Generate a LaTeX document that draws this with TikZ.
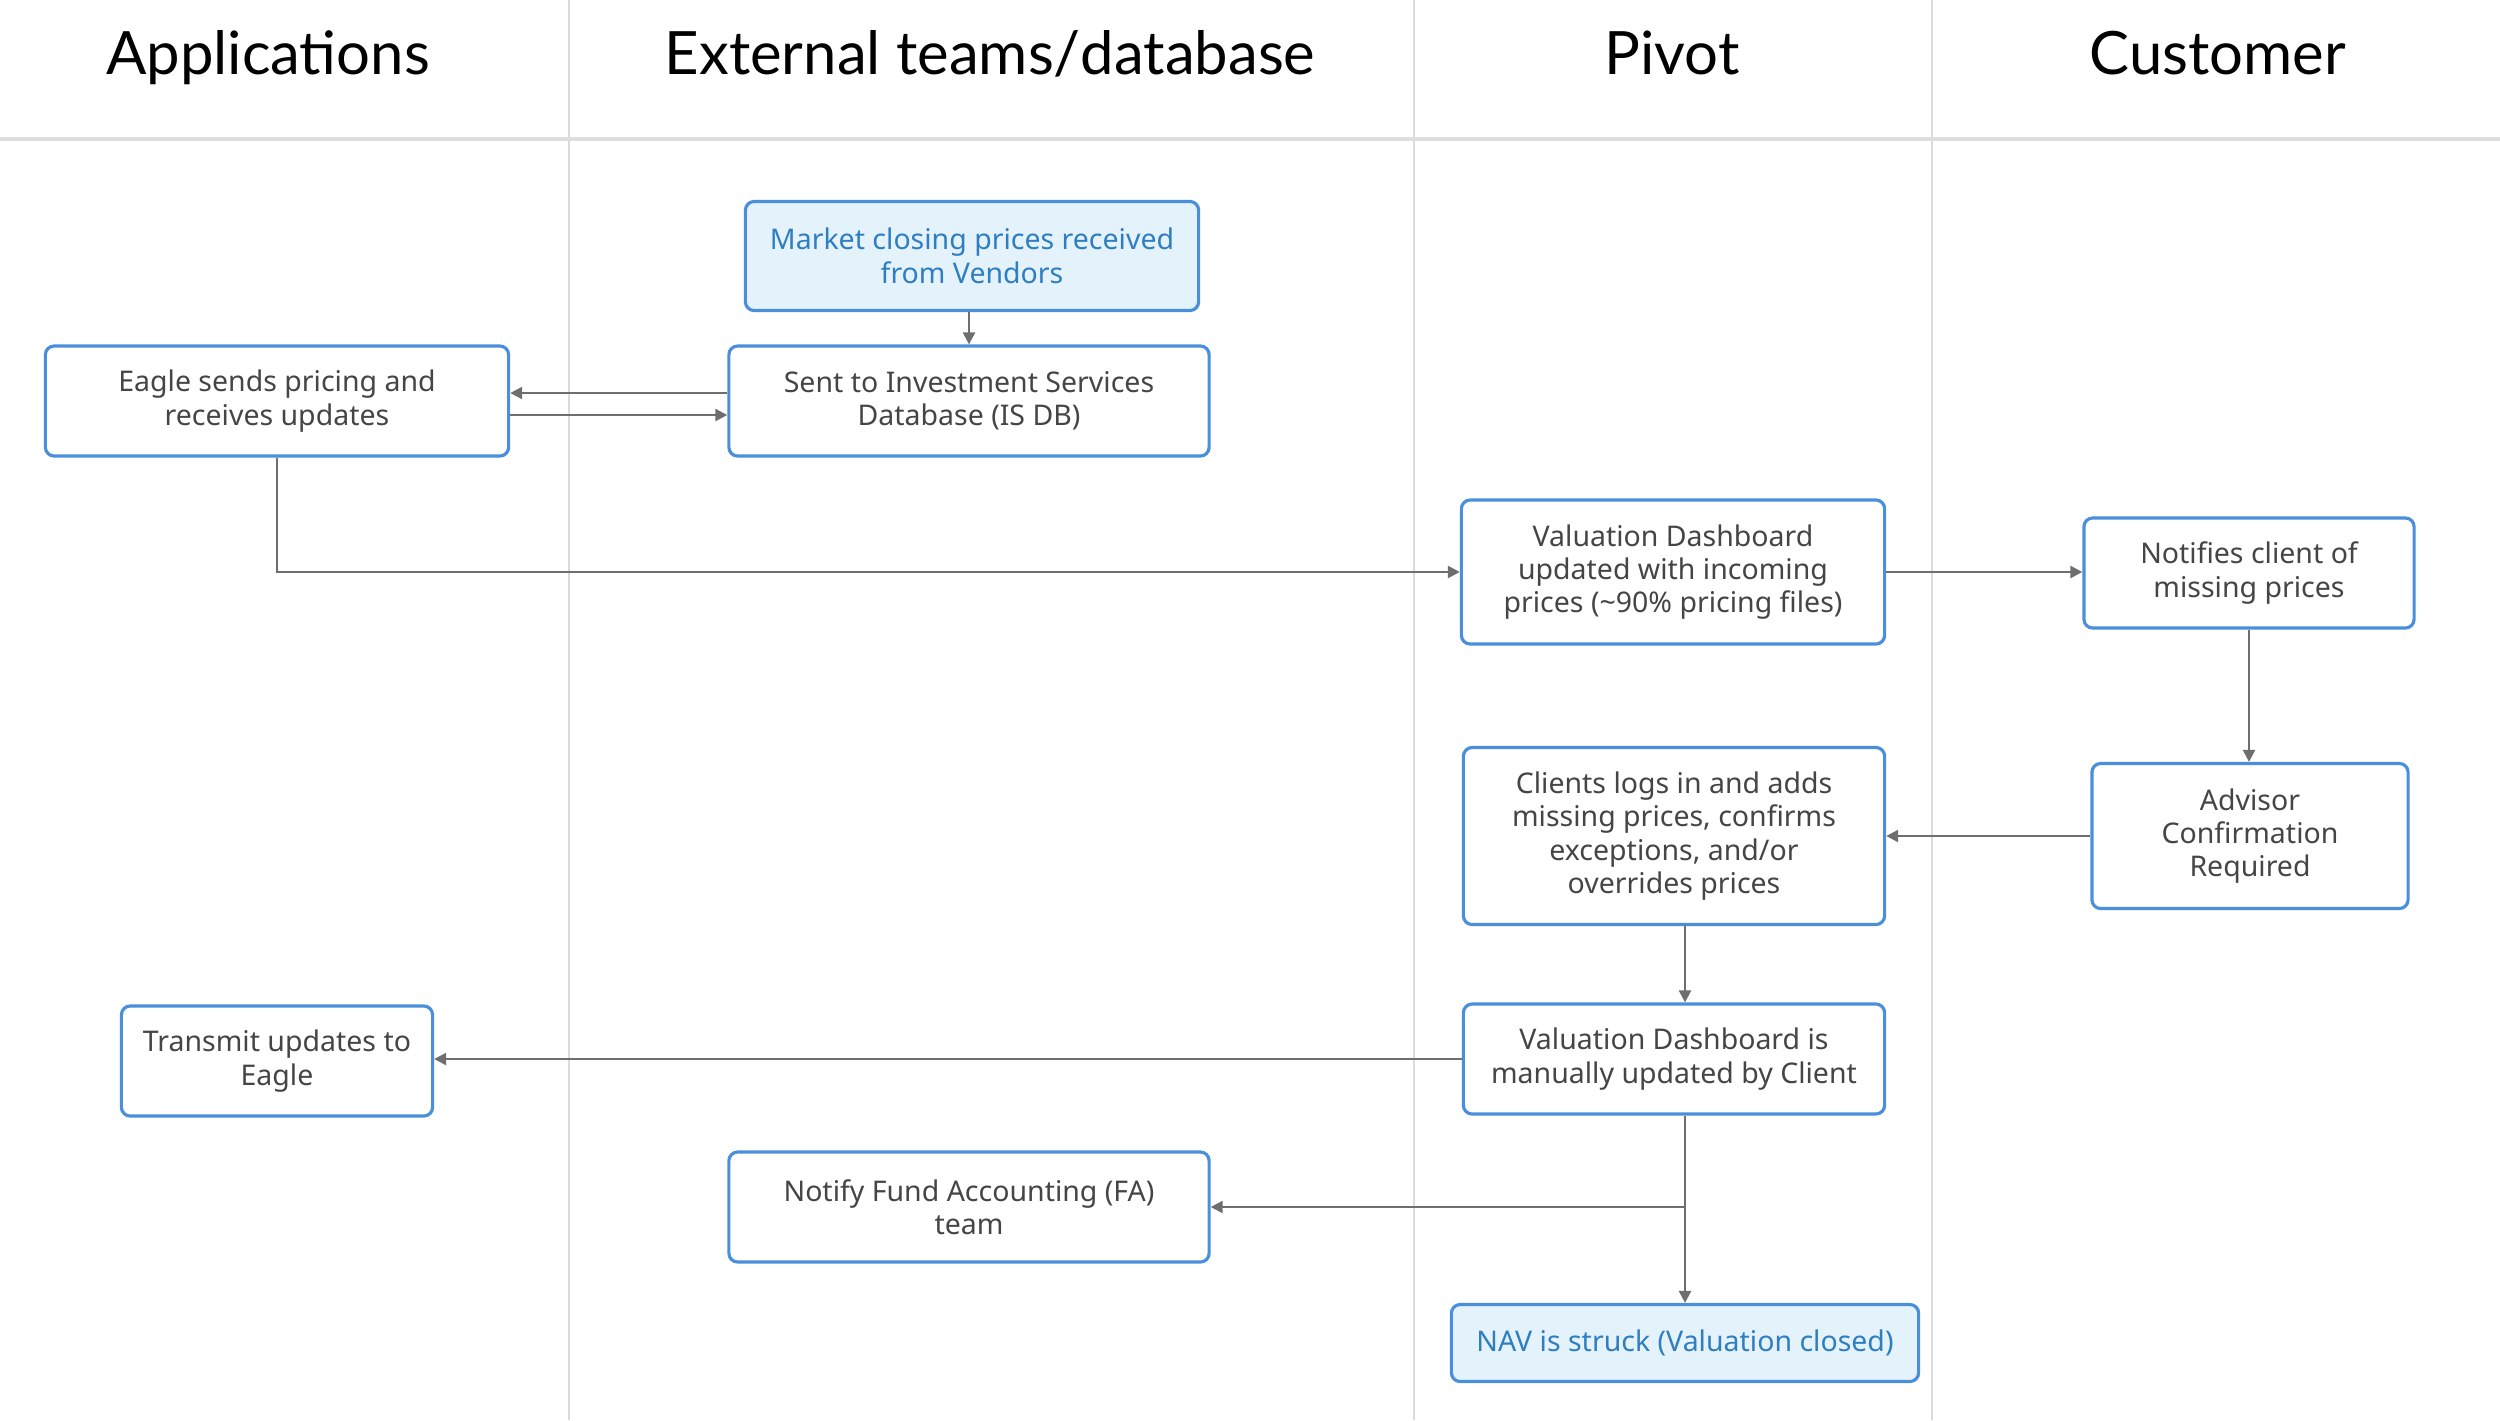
\documentclass[tikz,border=0pt]{standalone}
\usepackage{fontspec}
\setmainfont{Noto Sans}
\newfontfamily\headfont{Lato}
\usetikzlibrary{arrows.meta,calc}
\definecolor{boxblue}{HTML}{4A8FDB}
\definecolor{fillblue}{HTML}{E4F2FC}
\definecolor{textblue}{HTML}{2E7EC1}
\definecolor{textgray}{HTML}{454545}
\definecolor{linegray}{HTML}{6E6E6E}
\definecolor{lanegray}{HTML}{DADADA}
\tikzstyle{process}=[draw=boxblue,line width=0.9pt,rounded corners=2.5pt,fill=white,text=textgray,font=\fontsize{8.1}{9.5}\selectfont,align=center,inner sep=0pt]
\tikzstyle{terminal}=[process,fill=fillblue,text=textblue]
\tikzstyle{flow}=[draw=linegray,line width=0.7pt,-{Triangle[length=3.4pt,width=3.4pt]}]
\tikzstyle{lane}=[draw=lanegray,line width=0.5pt]
\tikzstyle{header}=[anchor=base,font=\headfont\fontsize{17}{20}\selectfont,text=black]

\begin{document}
\begin{tikzpicture}[x=0.01cm,y=-0.01cm]
    \useasboundingbox (0,0) rectangle (2500,1420);

    % swimlanes and titles
    \foreach \xpos in {569,1414,1932}
        \path[lane] (\xpos,0) -- (\xpos,1420);
    \path[lane,line width=0.9pt,draw=lanegray!90] (0,139) -- (2500,139);
    \foreach \xpos/\title in {268/Applications, 990/External teams\slash database, 1672/Pivot, 2218/Customer}
        \node[header] at (\xpos,74) {\title};

    % process boxes
    \node[terminal,minimum width=4.53cm,minimum height=1.09cm] (market) at (972,256) {Market closing prices received\\from Vendors};
    \node[process,minimum width=4.80cm,minimum height=1.10cm] (isdb) at (969,401) {Sent to Investment Services\\Database (IS DB)};
    \node[process,minimum width=4.63cm,minimum height=1.10cm] (eagle) at (277,401) {Eagle sends pricing and\\receives updates};
    \node[process,minimum width=4.23cm,minimum height=1.44cm] (dash) at (1673,572) {Valuation Dashboard\\updated with incoming\\prices (\textasciitilde90\% pricing files)};
    \node[process,minimum width=3.30cm,minimum height=1.10cm] (notify) at (2249,573) {Notifies client of\\missing prices};
    \node[process,minimum width=3.16cm,minimum height=1.45cm] (advisor) at (2250,836) {Advisor\\Confirmation\\Required};
    \node[process,minimum width=4.21cm,minimum height=1.77cm] (clients) at (1674,836) {Clients logs in and adds\\missing prices, confirms\\exceptions, and/or\\overrides prices};
    \node[process,minimum width=4.21cm,minimum height=1.10cm] (manual) at (1674,1059) {Valuation Dashboard is\\manually updated by Client};
    \node[process,minimum width=3.11cm,minimum height=1.10cm] (transmit) at (277,1061) {Transmit updates to\\Eagle};
    \node[process,minimum width=4.80cm,minimum height=1.10cm] (fa) at (969,1207) {Notify Fund Accounting (FA)\\team};
    \node[terminal,minimum width=4.67cm,minimum height=0.77cm] (nav) at (1685,1343) {NAV is struck (Valuation closed)};

    % connectors
    \path[flow] (market.south -| isdb) -- (isdb.north);
    \path[flow] ($(isdb.west)+(0,-8)$) -- ($(eagle.east)+(0,-8)$);
    \path[flow] ($(eagle.east)+(0,14)$) -- ($(isdb.west)+(0,14)$);
    \path[flow] (eagle.south) |- (dash.west);
    \path[flow] (dash.east) -- (dash.east -| notify.west);
    \path[flow] (notify.south) -- (notify.south |- advisor.north);
    \path[flow] (advisor.west) -- (clients.east);
    \path[flow] (clients.south -| nav) -- (manual.north -| nav);
    \path[flow] (manual.west) -- (manual.west -| transmit.east);
    \path[flow] (manual.south -| nav) -- (nav.north);
    \path[flow] (fa.east -| nav) -- (fa.east);
\end{tikzpicture}
\end{document}
